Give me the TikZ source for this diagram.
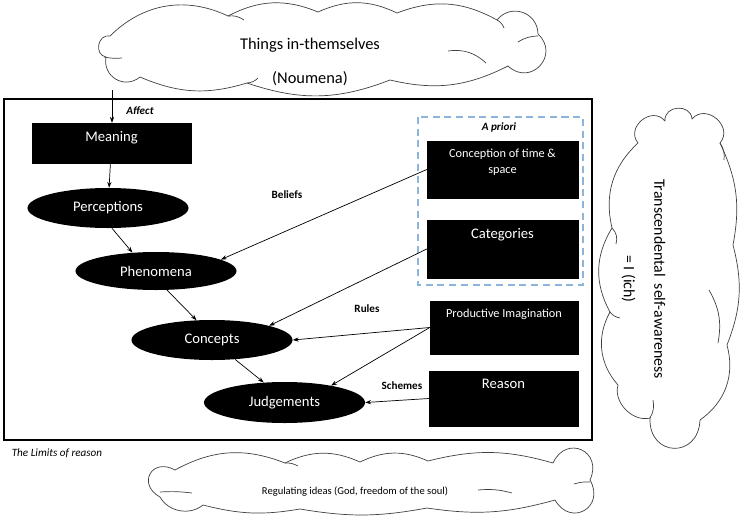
\documentclass[tikz,border=0pt]{standalone}
\usepackage{fontspec}
\setmainfont{Carlito}
\usetikzlibrary{shapes.geometric,arrows.meta}
\definecolor{aprioriblue}{RGB}{141,180,218}

\begin{document}
\begin{tikzpicture}[x=0.03cm, y=-0.03cm, >={Stealth[length=5pt,width=3.6pt]},
    every node/.style={font=\fontsize{12.5}{15}\selectfont},
    blackbox/.style={rectangle, draw=black, fill=black, minimum width=#1, inner sep=0pt},
    boxtext/.style={anchor=north, text=white, inner sep=0pt, yshift=-7pt, align=center},
    blackoval/.style={ellipse, fill=black, text=white, minimum width=4.83cm, minimum height=1.2cm, inner sep=0pt},
    cloudline/.style={draw=black!75, line width=0.6pt, line join=round},
    edgelabel/.style={font=\fontsize{9.5}{11}\selectfont\bfseries},
    conn/.style={->, line width=0.6pt}]
    \useasboundingbox (0,0) rectangle (743,521);

    \draw[cloudline] (110,36) to[bend left=35] (228,16) to[bend left=25] (318,12) to[bend left=25] (397,13)
        to[bend left=25] (497,20) to[bend left=70, looseness=1.3] (538,34) to[bend left=90, looseness=1.8] (508,66)
        to[bend left=20] (390,80) to[bend left=20] (247,83) to[bend left=20] (140,77)
        to[bend left=70, looseness=1.3] (106,57) to[bend left=90, looseness=1.5] (110,36);
    \draw[cloudline] (104,57) to[bend right=8] (122,58);
    \draw[cloudline] (228,16) to[bend left=20] (244,20);
    \draw[cloudline] (497,20) to[bend left=20] (504,28);
    \draw[cloudline] (538,36) to[bend right=15] (518,42);
    \draw[cloudline] (448,51) to[bend left=25] (486,63);
    \draw[cloudline] (247,83) to[bend right=20] (258,78);
    \node[align=center, font=\fontsize{14}{17}\selectfont] (things) at (310,62) {Things in-themselves\\[12pt](Noumena)};

    \draw[cloudline] (638,143) to[bend left=90, looseness=1.5] (665,121) to[bend left=90, looseness=1.5] (692,119)
        to[bend left=90, looseness=1.5] (720,143) to[bend left=18] (733,245) to[bend left=18] (727,345)
        to[bend left=35] (700,420) to[bend left=90, looseness=2] (650,418) to[bend left=60] (618,385)
        to[bend left=35] (610,312) to[bend left=30] (612,228) to[bend left=30] (638,143);
    \draw[cloudline] (612,228) to[bend left=30] (616,244);
    \draw[cloudline] (610,312) to[bend right=20] (620,318);
    \draw[cloudline] (709,290) to[bend left=20] (718,343);
    \draw[cloudline] (650,418) to[bend right=20] (653,400);
    \draw[cloudline] (720,143) to[bend left=20] (724,160);
    \node[rotate=-90, align=center, font=\fontsize{13.5}{16}\selectfont] (selfaware) at (643.5,279) {Transcendental\ \ self-awareness\\[10pt]= I (ich)};

    \draw[cloudline] (175,470) to[bend left=25] (285,463) to[bend left=25] (360,462) to[bend left=25] (428,461)
        to[bend left=15] (553,463) to[bend left=90, looseness=2] (590,480) to[bend left=90, looseness=2] (555,500)
        to[bend left=12] (427,508) to[bend left=10] (300,509) to[bend left=12] (203,505)
        to[bend left=50] (160,497) to[bend left=90, looseness=2.2] (175,470);
    \draw[cloudline] (160,492) to[bend left=5] (192,493);
    \draw[cloudline] (478,490) to[bend left=10] (512,493);
    \draw[cloudline] (590,482) to[bend right=10] (574,484);
    \draw[cloudline] (285,463) to[bend left=15] (298,466);
    \node[font=\fontsize{9}{11}\selectfont] (regul) at (355,492) {Regulating ideas (God, freedom of the soul)};

    \draw[line width=1pt] (4,99) rectangle (592,440);
    \draw[aprioriblue, line width=1.1pt, dash pattern=on 6pt off 4pt] (418,117) rectangle (583,285);

    \node[blackbox=4.77cm, minimum height=1.2cm, label={[boxtext]north:Meaning}] (meaning) at (111.5,143) {};
    \node[blackbox=4.53cm, minimum height=1.71cm, label={[boxtext, font=\fontsize{10.5}{13.5}\selectfont]north:{Conception of time \&\\space}}] (timespace) at (502.5,169.5) {};
    \node[blackbox=4.53cm, minimum height=1.74cm, label={[boxtext]north:Categories}] (categories) at (502.5,249) {};
    \node[blackbox=4.44cm, minimum height=1.59cm, label={[boxtext, font=\fontsize{10.5}{12}\selectfont]north:Productive Imagination}] (prodimag) at (504,327.5) {};
    \node[blackbox=4.47cm, minimum height=1.65cm, label={[boxtext]north:Reason}] (reason) at (503.5,398.5) {};

    \node[blackoval] (percep) at (108,208) {Perceptions};
    \node[blackoval, minimum height=1.14cm] (phenom) at (156,271) {Phenomena};
    \node[blackoval] (concepts) at (212,340) {Concepts};
    \node[blackoval, minimum height=1.23cm] (judge) at (284.5,402.5) {Judgements};

    \node[edgelabel, font=\fontsize{9.5}{11}\selectfont\bfseries\itshape] (affect) at (140,111) {Affect};
    \node[edgelabel] (beliefs) at (287,195) {Beliefs};
    \node[edgelabel] (rules) at (367,309) {Rules};
    \node[edgelabel] (schemes) at (402,386) {Schemes};
    \node[edgelabel, font=\fontsize{9.5}{11}\selectfont\bfseries\itshape] (apriori) at (499,127) {A priori};
    \node[font=\fontsize{9.5}{11}\selectfont\itshape] (limits) at (57,453) {The Limits of reason};

    \coordinate (affin) at (112,90);
    \draw[conn] (affin) -- (affin |- meaning.north);
    \draw[conn] (meaning) -- (percep);
    \draw[conn] (percep.-79) -- (phenom.142);
    \draw[conn] (phenom.-60) -- (concepts.128);
    \draw[conn] (concepts.-40) -- (judge.136);
    \draw[conn] (timespace.west) -- (phenom.10);
    \draw[conn] (categories.west) -- (concepts.14);
    \draw[conn] (prodimag.west) -- (concepts.east);
    \draw[conn] (prodimag.west) -- (judge.20);
    \draw[conn] (reason.west) -- (judge.east);
\end{tikzpicture}
\end{document}
